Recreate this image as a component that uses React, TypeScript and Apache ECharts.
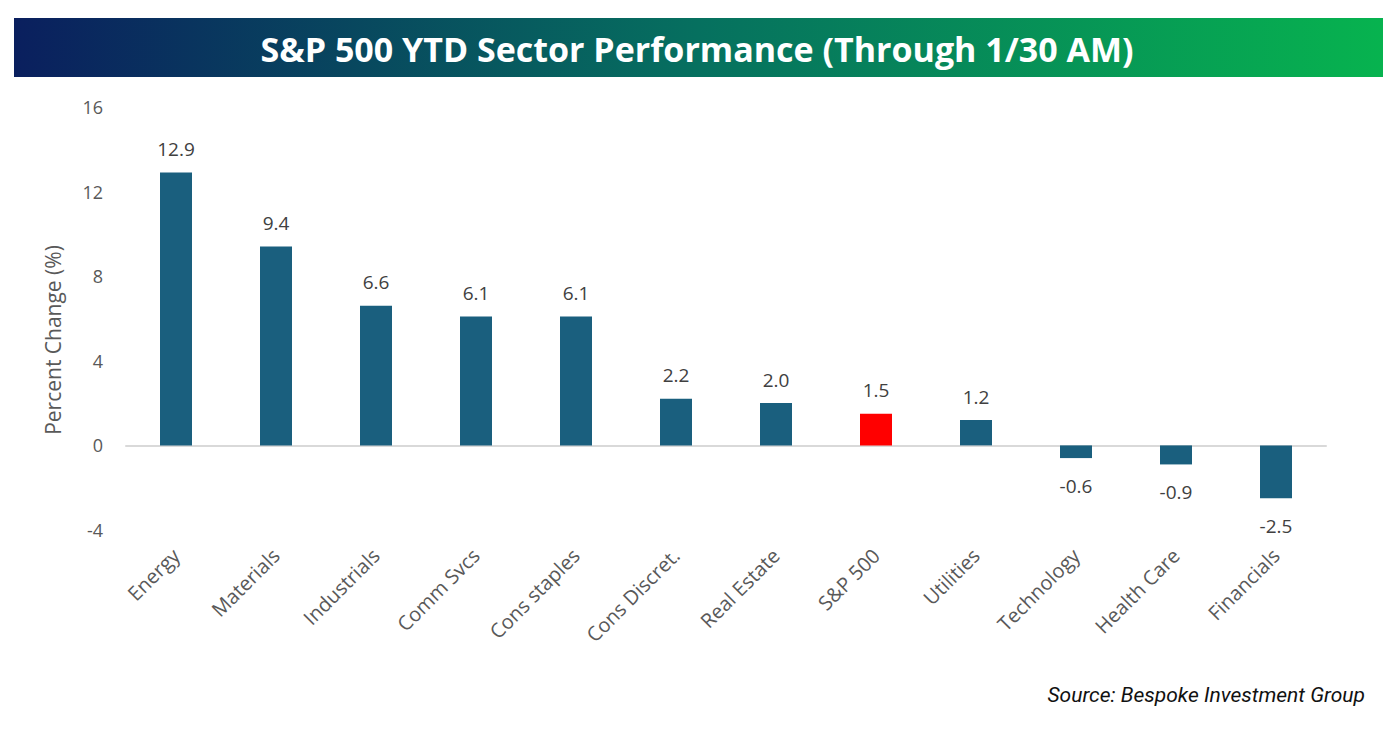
import React, { useEffect, useRef } from "react";
import * as echarts from "echarts";

const categories = ["Energy", "Materials", "Industrials", "Comm Svcs", "Cons staples", "Cons Discret.", "Real Estate", "S&P 500", "Utilities", "Technology", "Health Care", "Financials"];
const values = [12.9, 9.4, 6.6, 6.1, 6.1, 2.2, 2.0, 1.5, 1.2, -0.6, -0.9, -2.5];
const highlight = "S&P 500";
const titleText = "S&P 500 YTD Sector Performance (Through 1/30 AM)";
const sourceText = "Source: Bespoke Investment Group";
const yAxisTitle = "Percent Change (%)";

export default function App() {
  const ref = useRef<HTMLDivElement>(null);
  useEffect(() => {
    if (!ref.current) return;
    const chart = echarts.init(ref.current, null, { renderer: "svg" });
    chart.setOption({
      animation: false,
      backgroundColor: "#ffffff",
      graphic: [
        {
          type: "rect",
          shape: { x: 14, y: 18, width: 1369, height: 59 },
          style: {
            fill: new echarts.graphic.LinearGradient(0, 0, 1, 0, [
              { offset: 0, color: "#0a1f5e" },
              { offset: 0.5, color: "#06705f" },
              { offset: 1, color: "#07b34f" },
            ]),
          },
          z: 0,
        },
        {
          type: "text",
          x: 697,
          y: 49,
          style: {
            text: titleText,
            fill: "#ffffff",
            font: "bold 34px 'Open Sans', sans-serif",
            align: "center",
            verticalAlign: "middle",
          },
          z: 1,
        },
        {
          type: "text",
          x: 53,
          y: 340,
          rotation: Math.PI / 2,
          style: {
            text: yAxisTitle,
            fill: "#595959",
            font: "21px 'Open Sans', sans-serif",
            align: "center",
            verticalAlign: "middle",
          },
        },
        {
          type: "text",
          x: 1365,
          y: 695,
          style: {
            text: sourceText,
            fill: "#111111",
            font: "italic 21px Roboto, sans-serif",
            align: "right",
            verticalAlign: "middle",
          },
        },
      ],
      grid: { left: 126, right: 74, top: 107, bottom: 218, containLabel: false },
      xAxis: {
        type: "category",
        data: categories,
        axisLine: { show: true, onZero: true, lineStyle: { color: "#d9d9d9", width: 2 } },
        axisTick: { show: false },
        axisLabel: {
          rotate: 45,
          interval: 0,
          color: "#595959",
          fontSize: 20,
          fontFamily: "'Open Sans', sans-serif",
          margin: 22,
        },
        position: "bottom",
      },
      yAxis: {
        type: "value",
        min: -4,
        max: 16,
        interval: 4,
        axisLine: { show: false },
        axisTick: { show: false },
        splitLine: { show: false },
        axisLabel: { color: "#595959", fontSize: 18, fontFamily: "'Open Sans', sans-serif", margin: 23 },
      },
      series: [
        {
          type: "bar",
          barWidth: 32,
          data: values.map((v, i) => ({
            value: v,
            itemStyle: { color: categories[i] === highlight ? "#ff0000" : "#1a5f7e" },
            label: v < 0 ? { position: "bottom", distance: 18 } : undefined,
          })),
          label: {
            show: true,
            position: "top",
            distance: 14,
            color: "#404040",
            fontSize: 19,
            fontFamily: "'Open Sans', sans-serif",
            formatter: (p: any) => p.value.toFixed(1),
          },
        },
      ],
    });
    return () => chart.dispose();
  }, []);
  return <div ref={ref} style={{ position: "fixed", left: 0, top: 0, width: 1400, height: 748 }} />;
}
